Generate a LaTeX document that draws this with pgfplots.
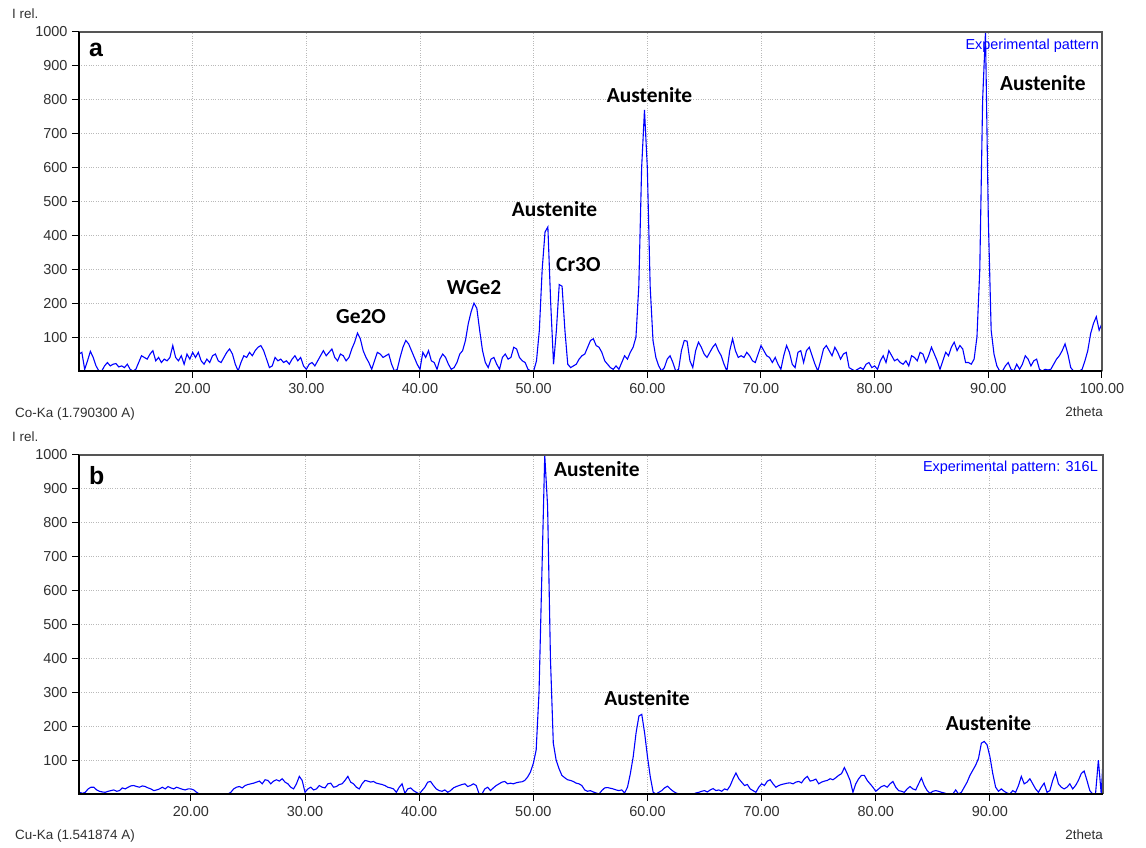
\documentclass[border=0pt]{standalone}
\usepackage{pgfplots}
\pgfplotsset{compat=1.18}
\usepackage{fontspec}
\setmainfont{Liberation Sans}
\newfontfamily\calibri{Carlito}
\definecolor{framegray}{HTML}{555555}
\definecolor{tickgray}{HTML}{303030}
\pgfplotsset{
  xrdstyle/.style={
    scale only axis,
    ymin=0, ymax=1000,
    axis line style={draw=none},
    tick align=outside,
    xtick pos=left, ytick pos=left,
    major tick length=7bp,
    tick style={black, line width=1bp},
    grid=major,
    grid style={dotted, line width=0.9bp, gray!55},
    ytick={100,200,300,400,500,600,700,800,900,1000},
    yticklabels={100,200,300,400,500,600,700,800,900,1000},
    tick label style={font=\fontsize{14.5}{17}\selectfont, text=tickgray},
    yticklabel style={xshift=-1bp},
    xticklabel style={yshift=-2bp},
    clip mode=individual,
  }
}
\newcommand{\frameit}{%
  \draw[framegray, line width=1.6bp] (rel axis cs:0,1) -- (rel axis cs:1,1) -- (rel axis cs:1,0);
  \draw[black, line width=1.6bp] (rel axis cs:0,1) -- (rel axis cs:0,0) -- (rel axis cs:1,0);
}
\newcommand{\ann}{\calibri\bfseries\fontsize{21.5}{24}\selectfont}
\begin{document}
\begin{tikzpicture}[x=1bp,y=1bp]
\useasboundingbox (0bp,0bp) rectangle (1146bp,848bp);
% ---------------- top panel (a) ----------------
\begin{axis}[xrdstyle, at={(79bp,477bp)}, anchor=south west, width=1023bp, height=339bp,
  xmin=10, xmax=100,
  xtick={20,30,40,50,60,70,80,90,100},
  xticklabels={20.00,30.00,40.00,50.00,60.00,70.00,80.00,90.00,100.00}]
\addplot[blue, line width=1.1bp] coordinates {
(10,50)(10.25,55)(10.5,5)(10.75,30)(11,58)(11.25,40)(11.5,15)(11.75,0)(12,0)(12.25,15)(12.5,25)(12.75,15)(13,20)(13.25,22)(13.5,12)(13.75,15)(14,10)(14.25,20)(14.5,5)(14.75,0)
(15,5)(15.25,25)(15.5,45)(15.75,40)(16,35)(16.25,50)(16.5,60)(16.75,30)(17,40)(17.25,25)(17.5,35)(17.75,30)(18,40)(18.25,75)(18.5,40)(18.75,30)(19,45)(19.25,20)(19.5,50)(19.75,35)
(20,55)(20.25,40)(20.5,55)(20.75,30)(21,20)(21.25,35)(21.5,25)(21.75,45)(22,50)(22.25,30)(22.5,25)(22.75,40)(23,55)(23.25,65)(23.5,50)(23.75,20)(24,0)(24.25,25)(24.5,45)(24.75,40)
(25,55)(25.25,45)(25.5,60)(25.75,70)(26,75)(26.25,60)(26.5,35)(26.75,10)(27,15)(27.25,40)(27.5,30)(27.75,35)(28,25)(28.25,30)(28.5,20)(28.75,35)(29,45)(29.25,30)(29.5,40)(29.75,15)
(30,5)(30.25,20)(30.5,25)(30.75,15)(31,30)(31.25,45)(31.5,60)(31.75,45)(32,55)(32.25,65)(32.5,40)(32.75,30)(33,50)(33.25,45)(33.5,30)(33.75,40)(34,65)(34.25,85)(34.5,112)(34.75,95)
(35,60)(35.25,40)(35.5,25)(35.75,5)(36,30)(36.25,55)(36.5,50)(36.75,40)(37,45)(37.25,50)(37.5,20)(37.75,0)(38,5)(38.25,40)(38.5,70)(38.75,90)(39,80)(39.25,60)(39.5,40)(39.75,20)
(40,5)(40.25,55)(40.5,40)(40.75,60)(41,30)(41.25,25)(41.5,5)(41.75,35)(42,50)(42.25,40)(42.5,20)(42.75,5)(43,10)(43.25,25)(43.5,50)(43.75,60)(44,90)(44.25,140)(44.5,175)(44.75,200)
(45,185)(45.25,120)(45.5,60)(45.75,25)(46,10)(46.25,35)(46.5,40)(46.75,20)(47,5)(47.25,40)(47.5,50)(47.75,35)(48,40)(48.25,70)(48.5,65)(48.75,40)(49,30)(49.25,25)(49.5,5)(49.75,0)
(50,0)(50.25,30)(50.5,120)(50.75,300)(51,410)(51.25,425)(51.5,200)(51.75,20)(52,120)(52.25,255)(52.5,250)(52.75,120)(53,20)(53.25,10)(53.5,15)(53.75,20)(54,35)(54.25,45)(54.5,50)(54.75,70)
(55,90)(55.25,95)(55.5,75)(55.75,70)(56,55)(56.25,30)(56.5,20)(56.75,10)(57,5)(57.25,15)(57.5,5)(57.75,25)(58,45)(58.25,35)(58.5,55)(58.75,70)(59,100)(59.25,250)(59.5,600)(59.75,770)
(60,600)(60.25,250)(60.5,90)(60.75,40)(61,15)(61.25,0)(61.5,10)(61.75,35)(62,45)(62.25,25)(62.5,0)(62.75,5)(63,60)(63.25,90)(63.5,88)(63.75,30)(64,10)(64.25,60)(64.5,85)(64.75,70)
(65,50)(65.25,40)(65.5,55)(65.75,70)(66,80)(66.25,60)(66.5,45)(66.75,20)(67,0)(67.25,60)(67.5,95)(67.75,60)(68,40)(68.25,45)(68.5,40)(68.75,55)(69,45)(69.25,30)(69.5,25)(69.75,50)
(70,75)(70.25,60)(70.5,45)(70.75,40)(71,25)(71.25,40)(71.5,20)(71.75,5)(72,45)(72.25,75)(72.5,55)(72.75,20)(73,10)(73.25,55)(73.5,60)(73.75,25)(74,60)(74.25,70)(74.5,45)(74.75,20)
(75,0)(75.25,30)(75.5,65)(75.75,75)(76,60)(76.25,45)(76.5,70)(76.75,55)(77,35)(77.25,50)(77.5,55)(77.75,10)(78,5)(78.25,0)(78.5,5)(78.75,10)(79,5)(79.25,20)(79.5,25)(79.75,10)
(80,15)(80.25,5)(80.5,30)(80.75,45)(81,25)(81.25,60)(81.5,45)(81.75,30)(82,35)(82.25,25)(82.5,20)(82.75,30)(83,15)(83.25,45)(83.5,40)(83.75,30)(84,55)(84.25,50)(84.5,25)(84.75,45)
(85,70)(85.25,50)(85.5,30)(85.75,5)(86,30)(86.25,55)(86.5,45)(86.75,70)(87,85)(87.25,60)(87.5,75)(87.75,65)(88,25)(88.25,25)(88.5,20)(88.75,35)(89,100)(89.25,300)(89.5,800)(89.75,1000)
(90,450)(90.25,120)(90.5,50)(90.75,15)(91,0)(91.25,0)(91.5,15)(91.75,25)(92,5)(92.25,0)(92.5,20)(92.75,5)(93,20)(93.25,45)(93.5,35)(93.75,15)(94,30)(94.25,35)(94.5,5)(94.75,0)
(95,5)(95.25,3)(95.5,5)(95.75,20)(96,35)(96.25,45)(96.5,60)(96.75,80)(97,50)(97.25,10)(97.5,0)(97.75,0)(98,0)(98.25,5)(98.5,30)(98.75,60)(99,110)(99.25,140)(99.5,160)(99.75,120)(100,140)
};
\frameit
\end{axis}
% ---------------- bottom panel (b) ----------------
\begin{axis}[xrdstyle, at={(79bp,54bp)}, anchor=south west, width=1024bp, height=339bp,
  xmin=10.2, xmax=99.9,
  xtick={20,30,40,50,60,70,80,90},
  xticklabels={20.00,30.00,40.00,50.00,60.00,70.00,80.00,90.00}]
\addplot[blue, line width=1.1bp] coordinates {
(10.25,5)(10.5,2)(10.75,5)(11,15)(11.25,20)(11.5,20)(11.75,12)(12,8)(12.25,6)(12.5,5)(12.75,8)(13,10)(13.25,12)(13.5,8)(13.75,10)(14,18)(14.25,15)(14.5,20)(14.75,24)
(15,25)(15.25,22)(15.5,20)(15.75,24)(16,22)(16.25,18)(16.5,15)(16.75,10)(17,12)(17.25,15)(17.5,20)(17.75,15)(18,22)(18.25,18)(18.5,15)(18.75,20)(19,17)(19.25,14)(19.5,12)(19.75,15)
(20,15)(20.25,12)(20.5,5)(20.75,0)(21,0)(21.25,0)(21.5,0)(21.75,0)(22,0)(22.25,0)(22.5,0)(22.75,0)(23,0)(23.25,0)(23.5,5)(23.75,15)(24,20)(24.25,22)(24.5,18)(24.75,25)
(25,28)(25.25,30)(25.5,32)(25.75,35)(26,38)(26.25,30)(26.5,42)(26.75,40)(27,30)(27.25,38)(27.5,42)(27.75,38)(28,45)(28.25,35)(28.5,30)(28.75,20)(29,15)(29.25,30)(29.5,52)(29.75,40)
(30,5)(30.25,15)(30.5,20)(30.75,12)(31,15)(31.25,25)(31.5,20)(31.75,18)(32,30)(32.25,32)(32.5,20)(32.75,22)(33,28)(33.25,30)(33.5,40)(33.75,52)(34,35)(34.25,30)(34.5,20)(34.75,15)
(35,30)(35.25,40)(35.5,38)(35.75,35)(36,37)(36.25,32)(36.5,30)(36.75,28)(37,25)(37.25,20)(37.5,18)(37.75,15)(38,5)(38.25,20)(38.5,30)(38.75,2)(39,15)(39.25,18)(39.5,10)(39.75,5)
(40,0)(40.25,10)(40.5,20)(40.75,35)(41,37)(41.25,25)(41.5,15)(41.75,10)(42,8)(42.25,12)(42.5,5)(42.75,10)(43,18)(43.25,22)(43.5,25)(43.75,28)(44,30)(44.25,22)(44.5,25)(44.75,30)
(45,25)(45.25,0)(45.5,0)(45.75,15)(46,20)(46.25,10)(46.5,18)(46.75,25)(47,30)(47.25,35)(47.5,37)(47.75,30)(48,32)(48.25,30)(48.5,33)(48.75,35)(49,36)(49.25,40)(49.5,50)(49.75,65)
(50,90)(50.25,130)(50.5,300)(50.75,650)(51,1000)(51.25,850)(51.5,400)(51.75,150)(52,100)(52.25,75)(52.5,55)(52.75,48)(53,42)(53.25,40)(53.5,37)(53.75,32)(54,30)(54.25,25)(54.5,12)(54.75,8)
(55,10)(55.25,6)(55.5,3)(55.75,0)(56,10)(56.25,18)(56.5,19)(56.75,17)(57,15)(57.25,12)(57.5,10)(57.75,12)(58,3)(58.25,20)(58.5,60)(58.75,110)(59,180)(59.25,230)(59.5,235)(59.75,180)
(60,110)(60.25,50)(60.5,5)(60.75,0)(61,5)(61.25,10)(61.5,18)(61.75,23)(62,15)(62.25,8)(62.5,3)(62.75,0)(63,0)(63.25,0)(63.5,0)(63.75,0)(64,0)(64.25,3)(64.5,5)(64.75,8)
(65,10)(65.25,6)(65.5,12)(65.75,16)(66,10)(66.25,12)(66.5,8)(66.75,15)(67,12)(67.25,25)(67.5,45)(67.75,62)(68,45)(68.25,35)(68.5,25)(68.75,28)(69,15)(69.25,10)(69.5,5)(69.75,20)
(70,30)(70.25,25)(70.5,38)(70.75,42)(71,30)(71.25,20)(71.5,25)(71.75,28)(72,30)(72.25,32)(72.5,33)(72.75,30)(73,35)(73.25,37)(73.5,33)(73.75,45)(74,52)(74.25,38)(74.5,40)(74.75,44)
(75,30)(75.25,35)(75.5,38)(75.75,40)(76,45)(76.25,42)(76.5,48)(76.75,55)(77,60)(77.25,78)(77.5,60)(77.75,40)(78,5)(78.25,30)(78.5,45)(78.75,55)(79,55)(79.25,40)(79.5,30)(79.75,20)
(80,8)(80.25,15)(80.5,22)(80.75,25)(81,20)(81.25,30)(81.5,37)(81.75,20)(82,10)(82.25,8)(82.5,5)(82.75,15)(83,22)(83.25,15)(83.5,12)(83.75,30)(84,47)(84.25,25)(84.5,10)(84.75,2)
(85,8)(85.25,10)(85.5,8)(85.75,5)(86,3)(86.25,0)(86.5,0)(86.75,0)(87,12)(87.25,0)(87.5,5)(87.75,20)(88,35)(88.25,55)(88.5,70)(88.75,85)(89,105)(89.25,150)(89.5,155)(89.75,145)
(90,110)(90.25,60)(90.5,20)(90.75,8)(91,15)(91.25,8)(91.5,3)(91.75,0)(92,10)(92.25,5)(92.5,25)(92.75,52)(93,30)(93.25,35)(93.5,45)(93.75,30)(94,15)(94.25,5)(94.5,20)(94.75,32)
(95,5)(95.25,10)(95.5,40)(95.75,63)(96,30)(96.25,20)(96.5,15)(96.75,20)(97,30)(97.25,15)(97.5,25)(97.75,40)(98,60)(98.25,68)(98.5,40)(98.75,10)(99,0)(99.25,0)(99.5,100)(99.75,0)(99.9,95)
};
\frameit
\end{axis}
% ---------------- texts ----------------
\begin{scope}[every node/.style={inner sep=0pt, font=\fontsize{13.5}{16}\selectfont, text=tickgray}]
\node[anchor=base west] at (12bp,829bp) {I rel.};
\node[anchor=base west] at (12bp,406bp) {I rel.};
\node[anchor=base west] at (15bp,430.3bp) {Co-Ka (1.790300 A)};
\node[anchor=base east] at (1103bp,431bp) {2theta};
\node[anchor=base west] at (15bp,8.7bp) {Cu-Ka (1.541874 A)};
\node[anchor=base east] at (1103bp,8.7bp) {2theta};
\end{scope}
\begin{scope}[every node/.style={inner sep=0pt, font=\fontsize{14.5}{17}\selectfont, text=blue}]
\node[anchor=base east] at (1099bp,798.7bp) {Experimental pattern};
\node[anchor=base east] at (1098bp,376.3bp) {Experimental pattern: 316L};
\end{scope}
\begin{scope}[every node/.style={inner sep=0pt, font=\bfseries\fontsize{25}{28}\selectfont}]
\node[anchor=base west] at (89bp,791.3bp) {a};
\node[anchor=base west] at (89bp,363bp) {b};
\end{scope}
\begin{scope}[every node/.style={inner sep=0pt, font=\ann}]
\node[anchor=base west] at (1000bp,757bp) {Austenite};
\node[anchor=base] at (649.5bp,745bp) {Austenite};
\node[anchor=base] at (554.5bp,631.3bp) {Austenite};
\node[anchor=base west] at (556bp,576.3bp) {Cr3O};
\node[anchor=base] at (474bp,553bp) {WGe2};
\node[anchor=base] at (361bp,524.7bp) {Ge2O};
\node[anchor=base west] at (554bp,371.3bp) {Austenite};
\node[anchor=base] at (647bp,142bp) {Austenite};
\node[anchor=base] at (988.5bp,117bp) {Austenite};
\end{scope}
\end{tikzpicture}
\end{document}
